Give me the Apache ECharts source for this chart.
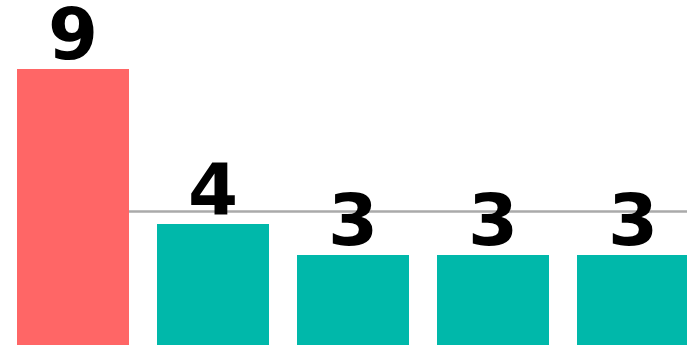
<!DOCTYPE html>
<html>
<head>
<meta charset="utf-8">
<script src="https://cdn.jsdelivr.net/npm/echarts@6/dist/echarts.min.js"></script>
<style>
  html, body { margin: 0; padding: 0; background: #fff; }
  #chart { width: 687px; height: 345px; }
</style>
</head>
<body>
<div id="chart"></div>
<script>
// Five categories, the first one highlighted
const categories = ['A', 'B', 'C', 'D', 'E'];
const values = [9, 4, 3, 3, 3];
const barColors = ['#FF6666', '#00B8AA', '#00B8AA', '#00B8AA', '#00B8AA'];

const mean = values.reduce((s, v) => s + v, 0) / values.length;

const chart = echarts.init(document.getElementById('chart'), null, { renderer: 'canvas' });

chart.setOption({
  animation: false,
  backgroundColor: '#ffffff',
  // the plot area runs slightly past the right and bottom edges
  grid: {
    left: 3, width: 700, top: 69, height: 279,
    containLabel: false,
    outerBoundsMode: 'none'
  },
  xAxis: {
    type: 'category',
    data: categories,
    show: false,
    boundaryGap: true
  },
  yAxis: {
    type: 'value',
    min: 0,
    max: 9,
    show: false,
    splitLine: { show: false }
  },
  series: [{
    type: 'bar',
    data: values.map((v, i) => ({ value: v, itemStyle: { color: barColors[i] } })),
    barCategoryGap: '20%',
    z: 3,
    label: {
      show: true,
      position: 'top',
      distance: -7,
      fontFamily: 'DejaVu Sans',
      fontWeight: 'bold',
      fontSize: 72,
      color: '#000000'
    },
    markLine: {
      z: 1,
      silent: true,
      symbol: 'none',
      label: { show: false },
      lineStyle: { color: '#AAAAAA', width: 2.5, type: 'solid' },
      data: [[
        { xAxis: 0, yAxis: mean },
        { xAxis: categories.length - 1, yAxis: mean, x: '100%' }
      ]]
    }
  }]
});
</script>
</body>
</html>
